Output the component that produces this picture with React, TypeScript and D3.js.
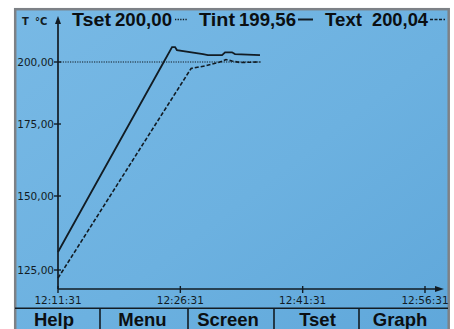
import React from "react";
import * as d3 from "d3";

// ---- data ----
const xTickLabels = ["12:11:31", "12:26:31", "12:41:31", "12:56:31"];
const yTickValues = [125, 150, 175, 200];

const tintTimes = ["12:11:31", "12:15:20", "12:20:15", "12:24:29", "12:25:30", "12:25:52", "12:26:06", "12:29:18", "12:29:54", "12:31:38", "12:32:00", "12:32:51", "12:33:13", "12:36:17"];
const tintValues = [131.1, 150, 175, 200, 206.0, 206.0, 204.8, 203.2, 202.8, 202.8, 203.9, 203.9, 203.2, 202.8];

const textTimes = ["12:11:31", "12:12:09", "12:17:54", "12:23:30", "12:27:50", "12:29:32", "12:31:23", "12:32:07", "12:32:51", "12:33:50", "12:36:17"];
const textValues = [122.3, 125, 150, 175, 197.4, 198.4, 200.0, 201.0, 200.4, 199.8, 200.0];

const tsetTimes = ["12:11:31", "12:36:31"];
const tsetValues = [200, 200];

const legendNames = ["Tset", "Tint", "Text"];
const legendValues = ["200,00", "199,56", "200,04"];

const buttonLabels = ["Help", "Menu", "Screen", "Tset", "Graph"];

// ---- layout ----
const W = 454;
const H = 329;
const INK = "#121c24";
const parse = d3.timeParse("%H:%M:%S");

export default function App() {
  const x = d3
    .scaleTime()
    .domain([parse(xTickLabels[0])!, parse(xTickLabels[xTickLabels.length - 1])!])
    .range([58, 425]);
  const y = d3.scaleLinear().domain(yTickValues).range([270, 196, 124, 62]);

  const line = d3
    .line<[Date, number]>()
    .x((d) => x(d[0]))
    .y((d) => y(d[1]));

  const series = (times: string[], values: number[]) =>
    times.map((t, i) => [parse(t)!, values[i]] as [Date, number]);

  const tintPath = line(series(tintTimes, tintValues)) || "";
  const textPath = line(series(textTimes, textValues)) || "";
  const tsetPath = line(series(tsetTimes, tsetValues)) || "";

  const fmt = (v: number) => d3.format(".2f")(v).replace(".", ",");

  const x0 = x.range()[0];
  const axisY = 289;

  // legend layout
  const nameX = [72, 199, 325];
  const nameW = [39, 36, 37];
  const valX = [115, 239, 372];
  const valW = [57, 57, 56];
  const sampleX = [[175, 188], [298, 313], [430, 445]];
  const sampleDash = ["1.3,1.3", "none", "3,1.5"];

  const buttonCenters = [54, 142.5, 228, 317.5, 400];
  const buttonDividers = [100, 188, 274, 359];

  const sans = "'Liberation Sans', Arial, sans-serif";
  const small = "'DejaVu Sans', sans-serif";

  return (
    <svg
      width={W}
      height={H}
      style={{ position: "absolute", left: 0, top: 0, background: "#fff" }}
    >
      <defs>
        <linearGradient id="bg" x1="0" y1="0" x2="1" y2="1">
          <stop offset="0%" stopColor="#78b9e5" />
          <stop offset="55%" stopColor="#6cb1e0" />
          <stop offset="100%" stopColor="#5fa7da" />
        </linearGradient>
      </defs>
      <rect x={15.2} y={9.2} width={433.5} height={330} fill="url(#bg)" stroke="#7d8186" strokeWidth={2.5} />

      {/* title / legend */}
      <text x={22} y={25} fontFamily={small} fontWeight="bold" fontSize={10} fill={INK}>T</text>
      <text x={35} y={25} fontFamily={small} fontWeight="bold" fontSize={10} fill={INK}>°C</text>
      {legendNames.map((n, i) => (
        <g key={n}>
          <text x={nameX[i]} y={26} fontFamily={sans} fontWeight="bold" fontSize={19} fill="#0b0f12" textLength={nameW[i]} lengthAdjust="spacingAndGlyphs">{n}</text>
          <text x={valX[i]} y={26} fontFamily={sans} fontWeight="bold" fontSize={19} fill="#0b0f12" textLength={valW[i]} lengthAdjust="spacingAndGlyphs">{legendValues[i]}</text>
          <line x1={sampleX[i][0]} x2={sampleX[i][1]} y1={19.5} y2={19.5} stroke={INK} strokeWidth={i === 1 ? 2 : 1.6} strokeDasharray={sampleDash[i]} />
        </g>
      ))}

      {/* y axis */}
      <line x1={x0} x2={x0} y1={20} y2={axisY} stroke={INK} strokeWidth={1.7} />
      <polygon points={`${x0},16 ${x0 - 3},24 ${x0 + 3},24`} fill={INK} />
      {yTickValues.map((v) => (
        <g key={v}>
          <line x1={x0 - 4} x2={x0 + 3} y1={y(v)} y2={y(v)} stroke={INK} strokeWidth={1.4} />
          <text x={54} y={y(v) + 4} textAnchor="end" fontFamily={small} fontSize={10.5} fill={INK}>{fmt(v)}</text>
        </g>
      ))}

      {/* x axis */}
      <line x1={x0} x2={438} y1={axisY} y2={axisY} stroke={INK} strokeWidth={1.7} />
      <polygon points={`444,${axisY} 435,${axisY - 3} 435,${axisY + 3}`} fill={INK} />
      {xTickLabels.map((t) => {
        const px = x(parse(t)!);
        return (
          <g key={t}>
            <line x1={px} x2={px} y1={axisY - 3} y2={axisY + 4} stroke={INK} strokeWidth={1.4} />
            <text x={px} y={304} textAnchor="middle" fontFamily={small} fontSize={10.5} fill={INK}>{t}</text>
          </g>
        );
      })}

      {/* series */}
      <path d={tsetPath} fill="none" stroke={INK} strokeWidth={1.2} strokeDasharray="1.2,1.2" />
      <path d={textPath} fill="none" stroke={INK} strokeWidth={1.6} strokeDasharray="4,2" />
      <path d={tintPath} fill="none" stroke={INK} strokeWidth={1.8} />

      {/* buttons */}
      <line x1={15} x2={448} y1={308.3} y2={308.3} stroke={INK} strokeWidth={1.6} />
      {buttonDividers.map((d) => (
        <line key={d} x1={d} x2={d} y1={308} y2={H} stroke={INK} strokeWidth={1.6} />
      ))}
      {buttonLabels.map((b, i) => (
        <text key={b + i} x={buttonCenters[i]} y={326} textAnchor="middle" fontFamily={sans} fontWeight="bold" fontSize={18.5} fill="#0b0f12">{b}</text>
      ))}
    </svg>
  );
}
